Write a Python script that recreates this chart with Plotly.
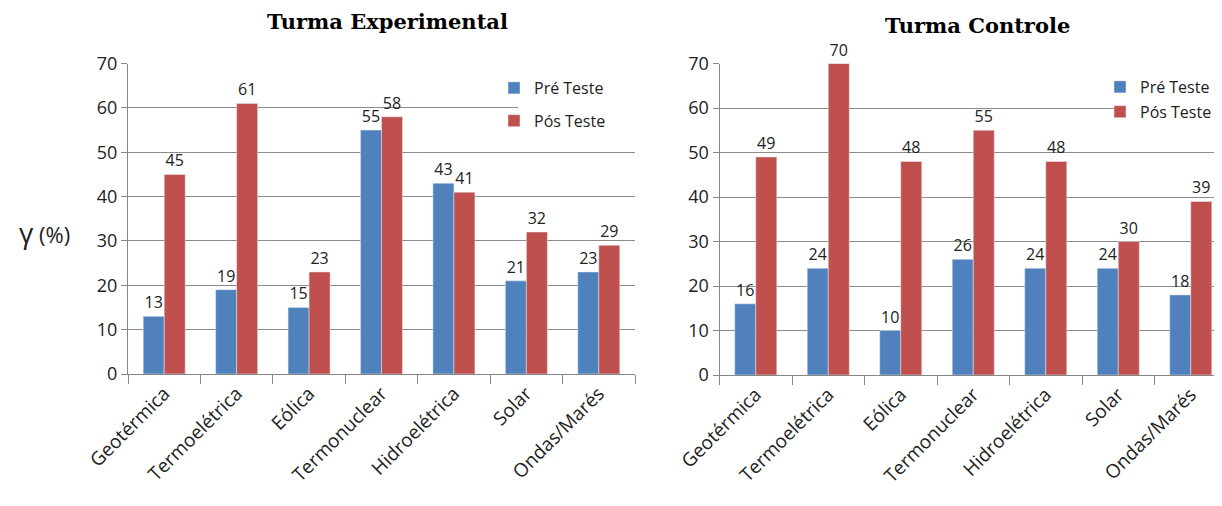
import plotly.graph_objects as go

categorias = ["Geotérmica", "Termoelétrica", "Eólica", "Termonuclear",
              "Hidroelétrica", "Solar", "Ondas/Marés"]

# Turma Experimental
exp_pre = [13, 19, 15, 55, 43, 21, 23]
exp_pos = [45, 61, 23, 58, 41, 32, 29]

# Turma Controle
ctl_pre = [16, 24, 10, 26, 24, 24, 18]
ctl_pos = [49, 70, 48, 55, 48, 30, 39]

azul = "#4F81BD"
vermelho = "#C0504D"
fonte = "Open Sans"

# a página desloca a figura 8 px (margem do body); converte pixel -> papel
W, H, OFF = 1222, 506, 8
def px(X):
    return (X - OFF) / W
def py(Y):
    return 1 - (Y - OFF) / H

fig = go.Figure()

for pre, pos, xa, ya, leg in [(exp_pre, exp_pos, "x", "y", "legend"),
                              (ctl_pre, ctl_pos, "x2", "y2", "legend2")]:
    fig.add_trace(go.Bar(x=categorias, y=pre, name="Pré Teste", marker_color=azul,
                         text=pre, textposition="outside", cliponaxis=False,
                         textfont=dict(family=fonte, size=16, color="#222"),
                         legendgroup="pre", xaxis=xa, yaxis=ya, legend=leg))
    fig.add_trace(go.Bar(x=categorias, y=pos, name="Pós Teste", marker_color=vermelho,
                         text=pos, textposition="outside", cliponaxis=False,
                         textfont=dict(family=fonte, size=16, color="#222"),
                         legendgroup="pos", xaxis=xa, yaxis=ya, legend=leg))

eixo_x = dict(type="category", tickangle=-45, showline=True, linecolor="#868686",
              ticks="outside", tickson="boundaries", ticklen=9, tickcolor="#868686",
              tickfont=dict(family=fonte, size=19, color="#222"), showgrid=False,
              automargin=False)
eixo_y = dict(range=[0, 70], dtick=10, showline=True, linecolor="#868686",
              ticks="outside", ticklen=6, tickcolor="#868686",
              gridcolor="#8a8a8a", gridwidth=1, automargin=False,
              tickfont=dict(family=fonte, size=18, color="#222"), zeroline=False)

fig.update_layout(
    width=W, height=H,
    margin=dict(l=0, r=0, t=0, b=0, autoexpand=False),
    plot_bgcolor="white", paper_bgcolor="white",
    barmode="group", bargap=0.42, bargroupgap=0,
    font=dict(family=fonte, color="#222"),
    xaxis=dict(eixo_x, domain=[px(128), px(635)], anchor="y"),
    yaxis=dict(eixo_y, domain=[py(374), py(63.5)], anchor="x"),
    xaxis2=dict(eixo_x, domain=[px(719.5), px(1227)], anchor="y2"),
    yaxis2=dict(eixo_y, domain=[py(375), py(63.5)], anchor="x2"),
    legend=dict(x=px(494), y=py(71), xanchor="left", yanchor="top",
                bgcolor="rgba(0,0,0,0)", traceorder="grouped", tracegroupgap=9,
                font=dict(family=fonte, size=16), itemwidth=30),
    legend2=dict(x=px(1100), y=py(70), xanchor="left", yanchor="top",
                 bgcolor="rgba(0,0,0,0)", traceorder="grouped", tracegroupgap=1,
                 font=dict(family=fonte, size=16), itemwidth=30),
    shapes=[
        dict(type="rect", xref="paper", yref="paper", layer="above",
             x0=px(518), x1=px(640), y0=py(130), y1=py(72),
             fillcolor="white", line_width=0),
        dict(type="rect", xref="paper", yref="paper", layer="above",
             x0=px(1118), x1=px(1235), y0=py(122), y1=py(72),
             fillcolor="white", line_width=0),
    ],
    annotations=[
        dict(text="<b>Turma Experimental</b>", x=px(387), y=py(22), xref="paper", yref="paper",
             xanchor="center", yanchor="middle", showarrow=False,
             font=dict(family="DejaVu Serif", size=21, color="black")),
        dict(text="<b>Turma Controle</b>", x=px(977), y=py(25), xref="paper", yref="paper",
             xanchor="center", yanchor="middle", showarrow=False,
             font=dict(family="DejaVu Serif", size=21, color="black")),
        dict(text="<span style='font-size:28px'>γ</span> (%)", x=px(44), y=py(232),
             xref="paper", yref="paper", xanchor="center", yanchor="middle", showarrow=False,
             font=dict(family=fonte, size=22, color="#222")),
    ],
)

fig.write_html("out.html")
